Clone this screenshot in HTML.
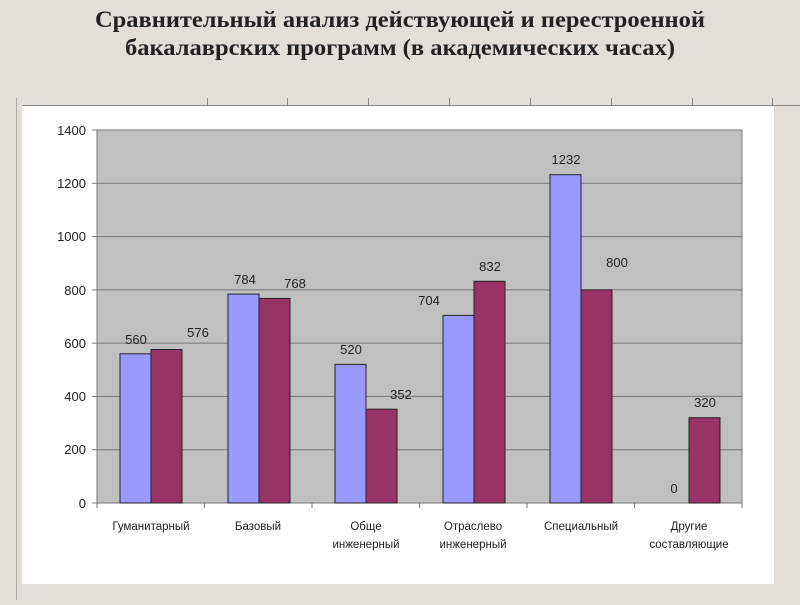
<!DOCTYPE html>
<html><head><meta charset="utf-8"><style>
body{margin:0;width:800px;height:600px;background:#e3dfd8;overflow:hidden;font-family:"Liberation Sans",sans-serif}
</style></head><body>
<svg width="800" height="600" xmlns="http://www.w3.org/2000/svg" font-family="Liberation Sans, sans-serif">
<text x="400" y="27" font-family="Liberation Serif, serif" font-weight="bold" font-size="23" text-anchor="middle" fill="#222" textLength="610" lengthAdjust="spacingAndGlyphs">Сравнительный анализ действующей и перестроенной</text>
<text x="400" y="55" font-family="Liberation Serif, serif" font-weight="bold" font-size="23" text-anchor="middle" fill="#222" textLength="550" lengthAdjust="spacingAndGlyphs">бакалаврских программ (в академических часах)</text>
<rect x="22" y="106" width="752" height="478" fill="#fff"/>
<line x1="22" y1="105.5" x2="800" y2="105.5" stroke="#888"/>
<line x1="16.5" y1="98" x2="16.5" y2="600" stroke="#aaa"/>
<g stroke="#888">
<line x1="207.5" y1="98" x2="207.5" y2="105"/><line x1="287.5" y1="98" x2="287.5" y2="105"/>
<line x1="368.5" y1="98" x2="368.5" y2="105"/><line x1="449.5" y1="98" x2="449.5" y2="105"/>
<line x1="530.5" y1="98" x2="530.5" y2="105"/><line x1="611.5" y1="98" x2="611.5" y2="105"/>
<line x1="692.5" y1="98" x2="692.5" y2="105"/><line x1="772.5" y1="98" x2="772.5" y2="105"/>
</g>
<rect x="97" y="130" width="645" height="373" fill="#c0c0c0" stroke="#777"/>
<g stroke="#777">
<line x1="97" y1="183.3" x2="742" y2="183.3"/><line x1="97" y1="236.6" x2="742" y2="236.6"/>
<line x1="97" y1="289.9" x2="742" y2="289.9"/><line x1="97" y1="343.1" x2="742" y2="343.1"/>
<line x1="97" y1="396.4" x2="742" y2="396.4"/><line x1="97" y1="449.7" x2="742" y2="449.7"/>
<line x1="92" y1="130" x2="97" y2="130"/><line x1="92" y1="183.3" x2="97" y2="183.3"/><line x1="92" y1="236.6" x2="97" y2="236.6"/><line x1="92" y1="289.9" x2="97" y2="289.9"/><line x1="92" y1="343.1" x2="97" y2="343.1"/><line x1="92" y1="396.4" x2="97" y2="396.4"/><line x1="92" y1="449.7" x2="97" y2="449.7"/><line x1="92" y1="503" x2="97" y2="503"/>
<line x1="97" y1="503" x2="97" y2="508"/><line x1="204.5" y1="503" x2="204.5" y2="508"/><line x1="312" y1="503" x2="312" y2="508"/><line x1="419.5" y1="503" x2="419.5" y2="508"/><line x1="527" y1="503" x2="527" y2="508"/><line x1="634.5" y1="503" x2="634.5" y2="508"/><line x1="742" y1="503" x2="742" y2="508"/>
</g>
<g font-size="13" fill="#222" text-anchor="end">
<text x="86" y="135">1400</text><text x="86" y="188">1200</text><text x="86" y="241">1000</text><text x="86" y="295">800</text><text x="86" y="348">600</text><text x="86" y="401">400</text><text x="86" y="454">200</text><text x="86" y="508">0</text>
</g>
<g stroke="#222" stroke-width="1">
<rect x="120" y="353.8" width="31" height="149.2" fill="#9999ff"/><rect x="151" y="349.5" width="31" height="153.5" fill="#993366"/>
<rect x="228" y="294.1" width="31" height="208.9" fill="#9999ff"/><rect x="259" y="298.4" width="31" height="204.6" fill="#993366"/>
<rect x="335" y="364.4" width="31" height="138.6" fill="#9999ff"/><rect x="366" y="409.2" width="31" height="93.8" fill="#993366"/>
<rect x="443" y="315.4" width="31" height="187.6" fill="#9999ff"/><rect x="474" y="281.3" width="31" height="221.7" fill="#993366"/>
<rect x="550" y="174.7" width="31" height="328.3" fill="#9999ff"/><rect x="581" y="289.9" width="31" height="213.1" fill="#993366"/>
<rect x="689" y="417.7" width="31" height="85.3" fill="#993366"/>
</g>
<g font-size="13" fill="#222" text-anchor="middle">
<text x="136" y="344">560</text><text x="198" y="337">576</text>
<text x="245" y="284">784</text><text x="295" y="288">768</text>
<text x="351" y="354">520</text><text x="401" y="399">352</text>
<text x="429" y="305">704</text><text x="490" y="271">832</text>
<text x="566" y="164">1232</text><text x="617" y="267">800</text>
<text x="674" y="493">0</text><text x="705" y="407">320</text>
</g>
<g font-size="11.5" fill="#222" text-anchor="middle">
<text x="151" y="530">Гуманитарный</text>
<text x="258" y="530">Базовый</text>
<text x="366" y="530">Обще</text><text x="366" y="548">инженерный</text>
<text x="473" y="530">Отраслево</text><text x="473" y="548">инженерный</text>
<text x="581" y="530">Специальный</text>
<text x="689" y="530">Другие</text><text x="689" y="548">составляющие</text>
</g>
</svg>
</body></html>
